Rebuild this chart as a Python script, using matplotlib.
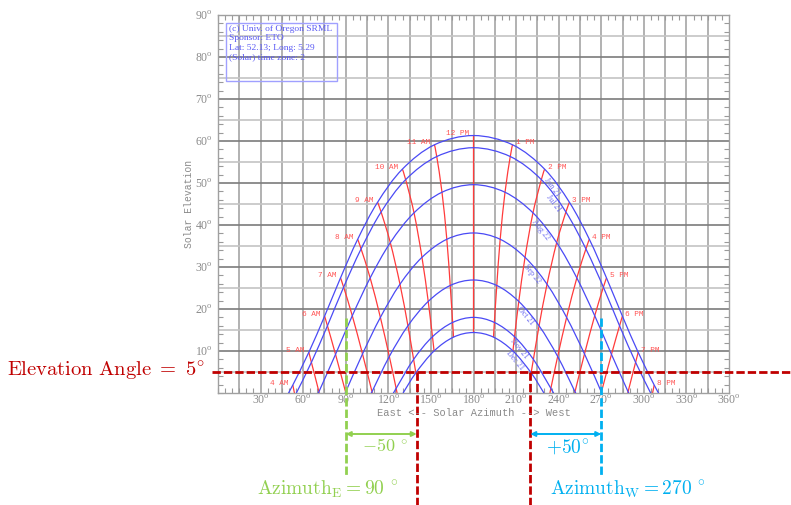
import numpy as np
import matplotlib
matplotlib.use("Agg")
import matplotlib.pyplot as plt
from matplotlib.path import Path
from matplotlib.patches import PathPatch, Rectangle

# ---------------- data ----------------
dates = ["Jun 21", "Jul 21", "Aug 22", "Sep 22", "Oct 21", "Nov 21", "Dec 21"]
# solar hours after noon: 12 PM .. 8 PM (hour angle 0..120 deg, step 15)
pm_hours = [12, 1, 2, 3, 4, 5, 6, 7, 8]
am_hours = [12, 11, 10, 9, 8, 7, 6, 5, 4]

az_jun = [180.0, 207.5, 230.1, 247.6, 261.6, 273.7, 284.9, 296.0, 307.3]
el_jun = [61.3, 59.1, 53.3, 45.4, 36.6, 27.4, 18.3, 9.7, 1.9]
az_jul = [180.0, 205.9, 227.8, 245.1, 259.2, 271.5, 282.9, 294.2, 305.8]
el_jul = [58.4, 56.3, 50.8, 43.1, 34.3, 25.2, 16.0, 7.3, -0.6]
az_aug = [180.0, 202.2, 221.9, 238.6, 252.8, 265.4, 277.2, 288.9, 301.1]
el_aug = [49.6, 47.8, 42.9, 35.8, 27.4, 18.4, 9.2, 0.3, -8.1]
az_sep = [180.0, 198.8, 216.3, 231.8, 245.6, 258.2, 270.1, 282.1, 294.6]
el_sep = [38.1, 36.6, 32.3, 25.9, 18.0, 9.3, 0.2, -9.0, -17.7]
az_oct = [180.0, 196.4, 211.9, 226.2, 239.3, 251.5, 263.2, 275.0, 287.6]
el_oct = [26.9, 25.6, 21.8, 16.0, 8.7, 0.3, -8.7, -17.9, -26.9]
az_nov = [180.0, 194.7, 208.9, 222.2, 234.5, 246.2, 257.5, 268.9, 281.3]
el_nov = [18.0, 16.8, 13.4, 8.0, 1.1, -6.9, -15.6, -24.7, -33.9]
az_dec = [180.0, 194.1, 207.8, 220.6, 232.7, 244.0, 255.1, 266.3, 278.4]
el_dec = [14.4, 13.3, 10.0, 4.8, -1.9, -9.7, -18.3, -27.4, -36.6]
# azimuth where each path meets the horizon in the afternoon
sunset_az = [310.4, 304.8, 289.3, 270.3, 251.9, 236.3, 229.6]

az_all = [az_jun, az_jul, az_aug, az_sep, az_oct, az_nov, az_dec]
el_all = [el_jun, el_jul, el_aug, el_sep, el_oct, el_nov, el_dec]

x_ticks = [30, 60, 90, 120, 150, 180, 210, 240, 270, 300, 330, 360]
y_ticks = [10, 20, 30, 40, 50, 60, 70, 80, 90]

info_lines = ["(c) Univ. of Oregon SRML", "Sponsor: ETO",
              "Lat: 52.13; Long: 5.29", "(Solar) time zone: 2"]

elev_limit = 5
cut_az = [140, 220]
az_east = 90
az_west = 270
delta_east = "-50"
delta_west = "+50"

# positions (azimuth) of the date labels along the curves
label_az = [238, 239, 230, 224, 219, 214.5, 211.5]

# ---------------- styles ----------------
W, H = 791, 505
BLUE = "#4a4af5"
RED = "#ff3b3b"
RED_TXT = "#ff5555"
DARKRED = "#c00000"
GREEN = "#92d050"
CYAN = "#00b0f0"
GRAY = "#8a8a8a"

fig = plt.figure(figsize=(W / 100, H / 100), dpi=100)
ax_l, ax_r, ax_t, ax_b = 218, 729, 15, 393
ax = fig.add_axes([ax_l / W, 1 - ax_b / H, (ax_r - ax_l) / W, (ax_b - ax_t) / H])
ax.set_xlim(0, 360)
ax.set_ylim(0, 90)


def fx(px):
    return px / W


def fy(py):
    return 1 - py / H


def smooth_path(pts):
    P = np.asarray(pts, float)
    n = len(P)
    ext = np.vstack([P[0], P, P[-1]])
    verts = [P[0]]
    codes = [Path.MOVETO]
    for i in range(n - 1):
        p0, p1, p2, p3 = ext[i], ext[i + 1], ext[i + 2], ext[i + 3]
        verts += [p1 + (p2 - p0) / 6.0, p2 - (p3 - p1) / 6.0, p2]
        codes += [Path.CURVE4] * 3
    return Path(verts, codes)


# grid
for v in range(15, 360, 15):
    ax.axvline(v, color="#a4a4a4", lw=1.2, zorder=0)
for h in range(5, 90, 5):
    ax.axhline(h, color="#7c7c7c" if h % 10 == 0 else "#c4c4c4", lw=1.2, zorder=0)

# sun path (blue) curves
for i in range(len(dates)):
    pm = [(a, e) for a, e in zip(az_all[i], el_all[i]) if e > 0] + [(sunset_az[i], 0.0)]
    am = [(360 - a, e) for a, e in reversed(pm)]
    pts = am + pm[1:]
    ax.add_patch(PathPatch(smooth_path(pts), fill=False, edgecolor=BLUE, lw=0.9, zorder=3))

# hour (red) lines
for k in range(len(pm_hours)):
    seq = []
    for i in range(len(dates)):
        seq.append((az_all[i][k], el_all[i][k]))
        if el_all[i][k] < 0:
            break
    for side in (1, -1):
        if k == 0 and side == -1:
            continue
        pts = [(a if side == 1 else 360 - a, e) for a, e in seq]
        ax.add_patch(PathPatch(smooth_path(pts), fill=False, edgecolor=RED, lw=0.9, zorder=2))

# hour labels
mono = "Liberation Mono"
for k in range(len(pm_hours)):
    a, e = az_jun[k], el_jun[k]
    if e <= 0:
        continue
    if k > 0:
        ax.annotate(f"{pm_hours[k]} PM", (a, e), xytext=(3, 2), textcoords="offset pixels",
                    ha="left", va="center", fontsize=5.6, color=RED_TXT, family=mono, zorder=5)
    txt = f"{am_hours[k]} AM" if k > 0 else "12 PM"
    ax.annotate(txt, (360 - a, e), xytext=(-4, 2), textcoords="offset pixels",
                ha="right", va="center", fontsize=5.6, color=RED_TXT, family=mono, zorder=5)

# date labels along curves
fig.canvas.draw()
for i in range(len(dates)):
    pa = [a for a, e in zip(az_all[i], el_all[i]) if e > 0] + [sunset_az[i]]
    pe = [e for e in el_all[i] if e > 0] + [0.0]
    la = label_az[i]
    le = np.interp(la, pa, pe)
    p1 = ax.transData.transform((la - 2, np.interp(la - 2, pa, pe)))
    p2 = ax.transData.transform((la + 2, np.interp(la + 2, pa, pe)))
    d = p2 - p1
    d = d / np.hypot(*d)
    ang = np.degrees(np.arctan2(d[1], d[0]))
    off = 4.5 * np.array([d[1], -d[0]])
    ax.annotate(dates[i], (la, le), xytext=(off[0], off[1]), textcoords="offset pixels",
                ha="center", va="center", rotation=ang, rotation_mode="anchor",
                fontsize=5.8, color="#6a6af0", family="Liberation Serif", zorder=5)

# ticks
plt.rcParams["mathtext.rm"] = "Liberation Serif"
ax.set_xticks(x_ticks)
ax.set_yticks(y_ticks)
ax.set_xticklabels([f"{v}$^{{\\rm o}}$" for v in x_ticks])
ax.set_yticklabels([f"{v}$^{{\\rm o}}$" for v in y_ticks])
for lab in ax.get_xticklabels() + ax.get_yticklabels():
    lab.set_family("Liberation Serif")
    lab.set_math_fontfamily("custom")
ax.set_xticks(np.arange(0, 361, 5), minor=True)
ax.set_yticks(np.arange(0, 91, 2), minor=True)
ax.tick_params(which="major", length=0, labelsize=8.5, colors=GRAY)
ax.tick_params(axis="x", which="major", pad=1.0)
ax.tick_params(axis="y", which="major", pad=3.5)
ax.tick_params(which="minor", direction="in", length=3.5, color="#9a9a9a",
               top=True, right=True, width=0.8)
for s in ax.spines.values():
    s.set_color("#a0a0a0")
    s.set_linewidth(1.0)

fig.text(fx(189), fy(204), "Solar Elevation", rotation=90, ha="center", va="center",
         fontsize=7, color=GRAY, family=mono)
fig.text(fx(474), fy(413), "East <-- Solar Azimuth --> West", ha="center", va="center",
         fontsize=7.5, color=GRAY, family=mono)

# info box
fig.patches.append(Rectangle((fx(226), fy(81)), fx(337) - fx(226), fy(23) - fy(81),
                             transform=fig.transFigure, fill=False, edgecolor="#a0a0ff",
                             lw=1.0, figure=fig))
for j, line in enumerate(info_lines):
    fig.text(fx(229), fy(29 + j * 9.4), line, ha="left", va="center", fontsize=6.8,
             color="#5a5af5", family="Liberation Serif")

# ---------------- annotations ----------------
inv = ax.transData.inverted()


def data_y(py):
    return inv.transform(fig.transFigure.transform((0, fy(py))))[1]


def data_x(px):
    return inv.transform(fig.transFigure.transform((fx(px), 0)))[0]


dash = (3, 1.1)
ax.plot([data_x(212), data_x(W + 5)], [elev_limit, elev_limit], color=DARKRED, lw=2.0,
        dashes=dash, clip_on=False, zorder=6)
for a in cut_az:
    ax.plot([a, a], [elev_limit, data_y(H + 5)], color=DARKRED, lw=2.0, dashes=dash,
            clip_on=False, zorder=6)
for a, c in ((az_east, GREEN), (az_west, CYAN)):
    ax.plot([a, a], [data_y(318), data_y(477)], color=c, lw=2.0, dashes=dash,
            clip_on=False, zorder=6)

y_arr = data_y(434)
for a0, a1, c in ((az_east, cut_az[0], GREEN), (cut_az[1], az_west, CYAN)):
    ax.annotate("", xy=(a0, y_arr), xytext=(a1, y_arr),
                arrowprops=dict(arrowstyle="<|-|>", color=c, lw=1.4, mutation_scale=7,
                                shrinkA=0, shrinkB=0),
                annotation_clip=False, zorder=6)

cm = dict(math_fontfamily="cm")
fig.text(fx(205), fy(371), r"$\mathrm{Elevation\ Angle}\ =\ 5^{\circ}$", ha="right",
         va="center", fontsize=14.8, color=DARKRED, **cm)
fig.text(fx(385), fy(446), rf"$\mathrm{{{delta_east}}}\ ^{{\circ}}$", ha="center",
         va="center", fontsize=13, color=GREEN, **cm)
fig.text(fx(568), fy(448), rf"${delta_west}^{{\circ}}$", ha="center", va="center",
         fontsize=14, color=CYAN, **cm)
fig.text(fx(328), fy(489), rf"$\mathrm{{Azimuth}}_{{\mathrm{{E}}}} = {az_east}\ ^{{\circ}}$",
         ha="center", va="center", fontsize=14, color=GREEN, **cm)
fig.text(fx(628), fy(489), rf"$\mathrm{{Azimuth}}_{{\mathrm{{W}}}}{{=}}{az_west}\ ^{{\circ}}$",
         ha="center", va="center", fontsize=14, color=CYAN, **cm)

fig.savefig("out.png", dpi=100)
